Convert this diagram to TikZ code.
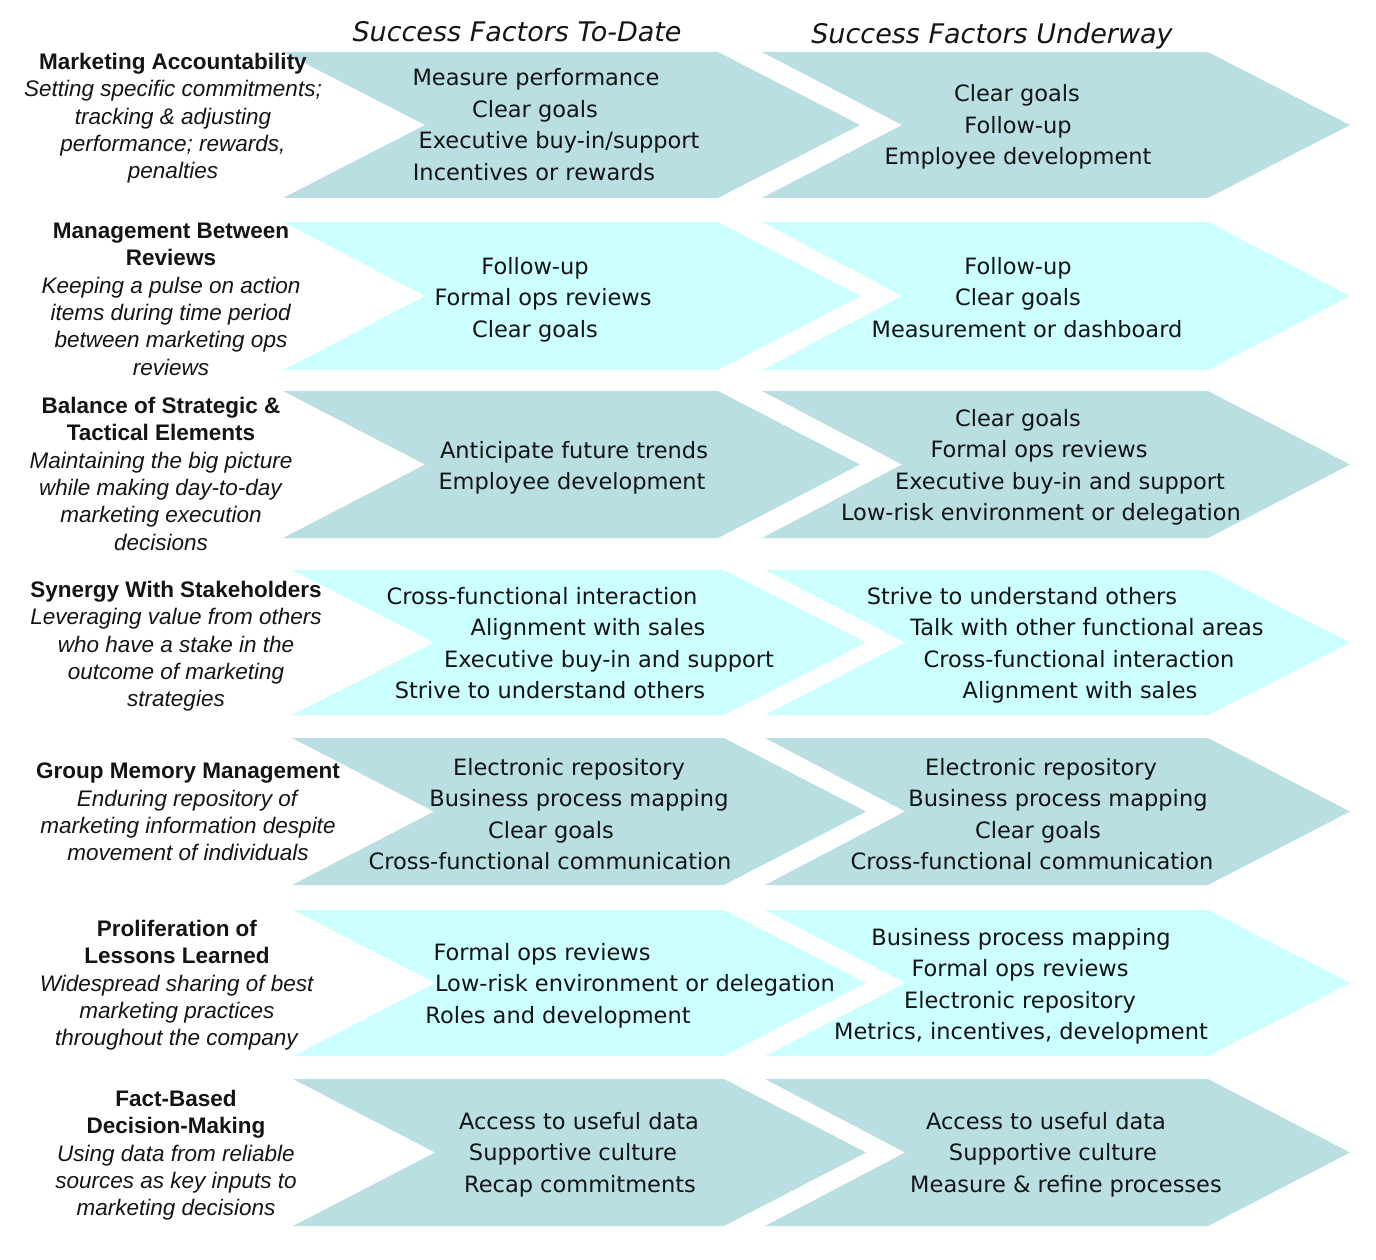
\documentclass[tikz,border=0pt]{standalone}
\usepackage{fontspec}
\setmainfont{Liberation Sans}
\newfontfamily\itemfont{DejaVu Sans}
\usetikzlibrary{positioning}
\definecolor{ChevDark}{RGB}{186,223,226}
\definecolor{ChevLight}{RGB}{204,255,255}
\definecolor{InkBlack}{RGB}{20,20,20}
\tikzset{
  colhead/.style  ={font=\itemfont\itshape\fontsize{27}{30}\selectfont, text=InkBlack,
                    inner sep=0pt, anchor=base},
  factor/.style   ={font=\itemfont\fontsize{22.5}{27}\selectfont, text=InkBlack,
                    inner sep=0pt, anchor=base},
  rowlabel/.style ={align=center, anchor=north, inner sep=0pt, text=InkBlack,
                    font=\fontsize{22.5}{27.3}\selectfont},
}
\newcommand{\factorlist}[3]{%
  \foreach \cx/\txt [count=\i] in {#3}
    \node[factor] (#1-\i) at (\cx,{#2+31.5*(\i-1)}) {\txt};}

\begin{document}
\begin{tikzpicture}[x=1pt,y=-1pt]
  \useasboundingbox (0,0) rectangle (1376,1260);
  % chevron bands
  \foreach \yt/\yb/\fc/\xa/\xb/\xc in {52/198/ChevDark/283/860/762,
      222/370/ChevLight/283/860/762, 391/538/ChevDark/283/860/762,
      570/715/ChevLight/292/866/765, 738/885/ChevDark/292/866/765,
      910/1056/ChevLight/293/866/765, 1079/1226/ChevDark/293/866/765}{
    \pgfmathsetmacro{\ym}{(\yt+\yb)/2}
    \fill[\fc] (\xa,\yt) -- ({\xb-142},\yt) -- (\xb,\ym) -- ({\xb-142},\yb)
      -- (\xa,\yb) -- ({\xa+142},\ym) -- cycle;
    \fill[\fc] (\xc,\yt) -- (1208,\yt) -- (1350,\ym) -- (1208,\yb)
      -- (\xc,\yb) -- ({\xc+140},\ym) -- cycle;
  }
  \node[colhead] (head1) at (517,42) {Success Factors To-Date};
  \node[colhead] (head2) at (992,44) {Success Factors Underway};
  % row labels
  \node[rowlabel] (lab1) at (173,53) {\textbf{Marketing Accountability}\\
    \textit{Setting specific commitments;}\\ \textit{tracking \& adjusting}\\
    \textit{performance; rewards,}\\ \textit{penalties}};
  \node[rowlabel] (lab2) at (171,223) {\textbf{Management Between}\\ \textbf{Reviews}\\
    \textit{Keeping a pulse on action}\\ \textit{items during time period}\\
    \textit{between marketing ops}\\ \textit{reviews}};
  \node[rowlabel] (lab3) at (161,397) {\textbf{Balance of Strategic \&}\\
    \textbf{Tactical Elements}\\
    \textit{Maintaining the big picture}\\ \textit{while making day-to-day}\\
    \textit{marketing execution}\\ \textit{decisions}};
  \node[rowlabel] (lab4) at (176,581) {\textbf{Synergy With Stakeholders}\\
    \textit{Leveraging value from others}\\ \textit{who have a stake in the}\\
    \textit{outcome of marketing}\\ \textit{strategies}};
  \node[rowlabel] (lab5) at (188,763) {\textbf{Group Memory Management}\\
    \textit{Enduring repository of}\\ \textit{marketing information despite}\\
    \textit{movement of individuals}};
  \node[rowlabel] (lab6) at (177,920) {\textbf{Proliferation of}\\
    \textbf{Lessons Learned}\\
    \textit{Widespread sharing of best}\\ \textit{marketing practices}\\
    \textit{throughout the company}};
  \node[rowlabel] (lab7) at (176,1090) {\textbf{Fact-Based}\\ \textbf{Decision-Making}\\
    \textit{Using data from reliable}\\ \textit{sources as key inputs to}\\
    \textit{marketing decisions}};
  % success factors to date
  \factorlist{done1}{86}{536/Measure performance, 535/Clear goals,
    559/{Executive buy-in/support}, 534/Incentives or rewards}
  \factorlist{done2}{274}{535/Follow-up, 543/Formal ops reviews, 535/Clear goals}
  \factorlist{done3}{458}{574/Anticipate future trends, 572/Employee development}
  \factorlist{done4}{604}{542/Cross-functional interaction, 588/Alignment with sales,
    609/Executive buy-in and support, 550/Strive to understand others}
  \factorlist{done5}{775}{569/Electronic repository, 579/Business process mapping,
    551/Clear goals, 550/Cross-functional communication}
  \factorlist{done6}{960}{542/Formal ops reviews, 635/Low-risk environment or delegation,
    558/Roles and development}
  \factorlist{done7}{1129}{579/Access to useful data, 573/Supportive culture,
    580/Recap commitments}
  % success factors underway
  \factorlist{next1}{102}{1017/Clear goals, 1018/Follow-up, 1018/Employee development}
  \factorlist{next2}{274}{1018/Follow-up, 1018/Clear goals, 1027/Measurement or dashboard}
  \factorlist{next3}{426}{1018/Clear goals, 1039/Formal ops reviews,
    1060/Executive buy-in and support, 1041/Low-risk environment or delegation}
  \factorlist{next4}{604}{1022/Strive to understand others,
    1087/Talk with other functional areas, 1079/Cross-functional interaction,
    1080/Alignment with sales}
  \factorlist{next5}{775}{1041/Electronic repository, 1058/Business process mapping,
    1038/Clear goals, 1032/Cross-functional communication}
  \factorlist{next6}{945}{1021/Business process mapping, 1020/Formal ops reviews,
    1020/Electronic repository, 1021/{Metrics, incentives, development}}
  \factorlist{next7}{1129}{1046/Access to useful data, 1053/Supportive culture,
    1066/Measure \& refine processes}
\end{tikzpicture}
\end{document}
